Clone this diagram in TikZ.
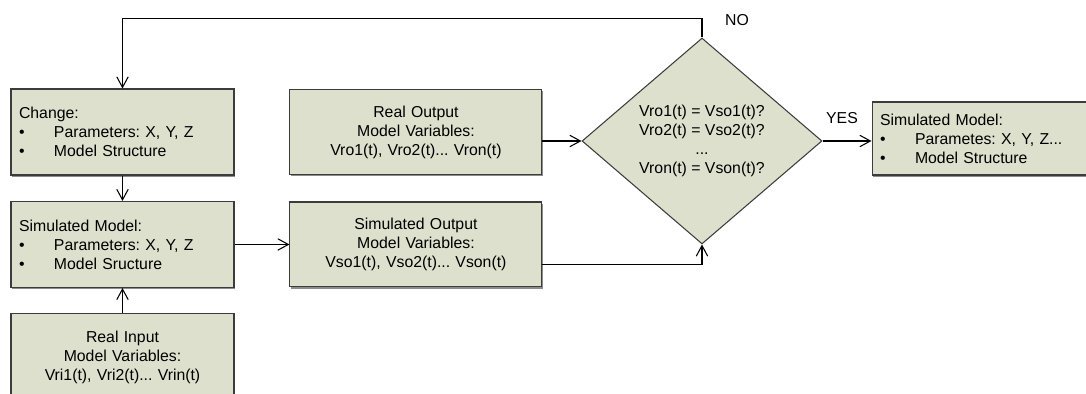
\documentclass[tikz,border=0pt]{standalone}
\usepackage{fontspec}
\setmainfont{Liberation Sans}
\usepackage{tikz}
\usetikzlibrary{positioning,shapes.geometric,arrows.meta,shadows}

\definecolor{boxfill}{RGB}{221,224,204}
\definecolor{boxline}{RGB}{60,60,60}

\newcommand{\bitem}[1]{\makebox[0.7cm][l]{\textbullet}#1}
\frenchspacing

\begin{document}
\begin{tikzpicture}[x=0.02cm,y=-0.02cm,node distance=2cm,on grid,
    font=\fontsize{9}{10.8}\selectfont,
    >={Straight Barb[length=6pt,width=6.5pt]}, line width=0.6pt,
    block/.style={draw=boxline, fill=boxfill, inner xsep=0.16cm,
      drop shadow={shadow xshift=0.4pt,shadow yshift=-0.9pt,fill=black!45,opacity=1}},
    leftbox/.style={block, minimum width=4.46cm, minimum height=1.72cm,
      text width=4.14cm, align=left},
    midbox/.style={block, minimum width=5.04cm, minimum height=1.7cm,
      text width=4.72cm, align=center}]
   \clip (0,0) rectangle (1086,394);

   \node[leftbox] (change) at (122.5,132) {Change:\\ \bitem{Parameters: X, Y, Z}\\ \bitem{Model Structure}};
   \node[leftbox] (simmod) [below=2.25cm of change] {Simulated Model:\\ \bitem{Parameters: X, Y, Z}\\ \bitem{Model Sructure}};
   \node[leftbox, align=center] (realin) [below=2.25cm of simmod] {Real Input\\ Model Variables:\\ Vri1(t), Vri2(t)... Vrin(t)};
   \node[midbox] (realout) [right=5.87cm of change] {Real Output\\ Model Variables:\\ Vro1(t), Vro2(t)... Vron(t)};
   \node[midbox] (simout) [right=5.87cm of simmod] {Simulated Output\\ Model Variables:\\ Vso1(t), Vso2(t)... Vson(t)};
   \node[diamond, draw=boxline, fill=boxfill, inner sep=0pt, minimum width=4.8cm,
     minimum height=4.12cm, align=center] (check) at (702,141)
     {Vro1(t) = Vso1(t)?\\ Vro2(t) = Vso2(t)?\\ ...\\ Vron(t) = Vson(t)?};
   \node[leftbox, minimum height=1.46cm] (final) at (983.5,138.5) {Simulated Model:\\ \bitem{Parametes: X, Y, Z...}\\ \bitem{Model Structure}};

   \node (nolbl) at (737,20) {NO};
   \node (yeslbl) at (842,118) {YES};

   \draw[->] (check.north) -- ++(0,-19) -| (change.north);
   \draw[->] (change) -- (simmod);
   \draw[->] (realin) -- (simmod);
   \draw[->] (simmod) -- (simout);
   \draw[->] (check.west -| realout.east) -- (check.west);
   \draw[->] ([yshift=-0.41cm]simout.east) -| (check.south);
   \draw[->] (check.east) -- (check.east -| final.west);
\end{tikzpicture}
\end{document}
